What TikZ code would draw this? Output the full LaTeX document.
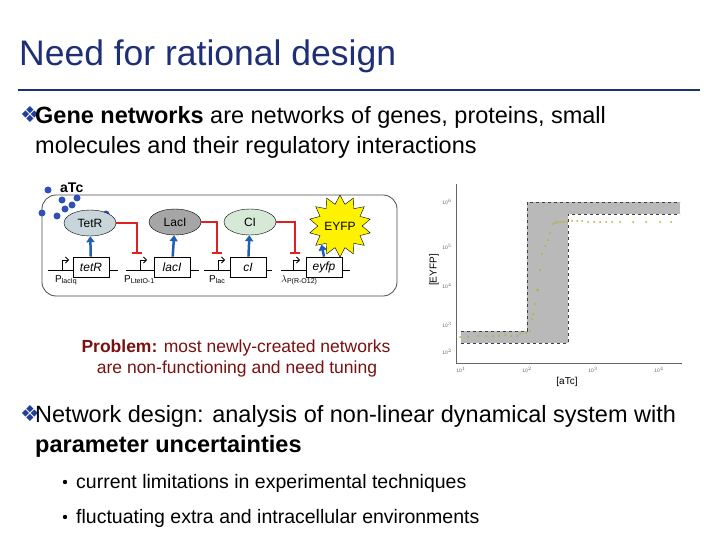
\documentclass[tikz,border=0pt]{standalone}
\usepackage{fontspec}
\setmainfont{Liberation Sans}
\newfontfamily\symfont{DejaVu Sans}
\usetikzlibrary{positioning,shapes.geometric,arrows.meta}
\definecolor{titleblue}{HTML}{1F2F75}
\definecolor{bulblue}{HTML}{1F3F9A}
\definecolor{probred}{HTML}{7A1010}
\definecolor{repred}{HTML}{E02020}
\definecolor{actblue}{HTML}{2060B0}
\definecolor{dotblue}{HTML}{3050B8}
\definecolor{datayel}{HTML}{B8B030}

\begin{document}
\begin{tikzpicture}[x=1pt,y=-1pt,
                    every node/.style={inner sep=0pt},
                    body/.style={anchor=base west,font=\fontsize{23.5}{27}\selectfont},
                    sub/.style={anchor=base west,font=\fontsize{19.5}{23}\selectfont},
                    bul/.style={anchor=base west,text=bulblue,font=\symfont\fontsize{22}{24}\selectfont},
                    gene/.style={draw,thick,fill=white,minimum width=36pt,minimum height=20pt,
                      font=\itshape\fontsize{12}{14}\selectfont},
                    prot/.style={draw,ellipse,minimum width=52pt,minimum height=26pt,
                      font=\fontsize{12}{14}\selectfont},
                    prom/.style={anchor=north west,font=\fontsize{10}{12}\selectfont},
                    act/.style={actblue,line width=2.5pt,-{Triangle[length=6pt,width=8pt]}},
                    rep/.style={repred,line width=2pt,-{Bar[width=10pt]}}]
\useasboundingbox (0,0) rectangle (720,540);
\fill[white] (0,0) rectangle (720,540);
% title
\node[anchor=base west,text=titleblue,font=\fontsize{35.5}{40}\selectfont] (title) at (19,66) {Need for rational design};
\draw[titleblue,line width=2.5pt] (18,90) -- (700,90);
% first bullet
\node[bul] (b1) at (20,123) {❖};
\node[body] (t1a) at (35,124) {\textbf{Gene networks} are networks of genes, proteins, small};
\node[body] (t1b) at (35,154) {molecules and their regulatory interactions};
% gene network
\draw[thick,rounded corners=14pt,black!70] (42,195) rectangle (397,296);
\node[anchor=base west,font=\bfseries\fontsize{14}{16}\selectfont] (atc) at (60,193) {aTc};
\foreach \p in {(48,190),(42,213),(62,200),(77,198),(72,205),(65,209),(57,216),(106,214)}
  \fill[dotblue] \p circle (3.5pt);
\draw[thick] (48,270) -- (118,270);
\draw[thick] (126,270) -- (199,270);
\draw[thick] (204,270) -- (272,270);
\draw[thick] (281,270) -- (350,270);
\node[gene] (tetR) at (91,267) {tetR};
\node[gene] (lacI) at (172,267) {lacI};
\node[gene] (cI) at (248,267) {cI};
\node[gene] (eyfp) at (324,267) {eyfp};
\foreach \x in {62,140,218,293}
  \draw[thick,-{Straight Barb[length=3pt]}] (\x,270) -- (\x,260) -- (\x+7,260);
\node[prom] (p1) at (55,275) {P\textsubscript{lacIq}};
\node[prom] (p2) at (124,275) {P\textsubscript{LtetO-1}};
\node[prom] (p3) at (209,275) {P\textsubscript{lac}};
\node[prom] (p4) at (281,275) {$\lambda$\textsubscript{P(R-O12)}};
\node[prot,fill=cyan!25!gray!40] (TetR) at (90,223) {TetR};
\node[prot,fill=gray!70] (LacI) at (175,222) {LacI};
\node[prot,fill=green!30!gray!25] (CI) at (250,222) {CI};
\node[star,star points=14,star point ratio=1.4,draw,fill=yellow,minimum size=38pt,
      font=\fontsize{12}{14}\selectfont] (EYFP) at (340,226) {EYFP};
\draw[act] (tetR) -- (TetR);
\draw[act] (lacI) -- (LacI);
\draw[act] (cI) -- (CI);
\draw[act] (eyfp.north) -- (EYFP.south west);
\draw[rep] (TetR.east) -- (137,223) -- (137,254);
\draw[rep] (LacI.east) -- (217,222) -- (217,254);
\draw[rep] (CI.east) -- (295,222) -- (295,254);
% problem text
\node[text=probred,font=\fontsize{17.5}{20}\selectfont] (prob1) at (236,348) {\textbf{Problem:} most newly-created networks};
\node[text=probred,font=\fontsize{17.5}{20}\selectfont] (prob2) at (237,369) {are non-functioning and need tuning};
% plot
\fill[gray!55] (461,331) rectangle (527,343);
\fill[gray!55] (527,202) rectangle (568,343);
\fill[gray!55] (568,202) rectangle (680,214);
\draw[dashed,thick,black!75] (461,343) -- (568,343) -- (568,214) -- (680,214);
\draw[dashed,thick,black!75] (461,331) -- (527,331) -- (527,202) -- (680,202);
\draw[black!60] (456,184) -- (456,363) -- (682,363);
\foreach \x/\e in {461/1,527/2,593/3,659/4}
  \node[font=\fontsize{5}{6}\selectfont,text=black!60] (xt\e) at (\x,370) {10$^{\e}$};
\foreach \y/\e in {202/6,247/5,286/4,325/3,352/2}
  \node[font=\fontsize{5}{6}\selectfont,text=black!60] (yt\e) at (447,\y) {10$^{\e}$};
\foreach \x/\y in {460/337,468/337,478/336,486/336,493/336,499/336,505/335,511/336,517/336,
  520/334,526/333,530/331,532/319,533/314,535/304,537/290,538/290,540/270,542/254,545/246,
  548/240,550/233,553/224,555/223,557/222,560/222,563/222,567/222,572/221,577/221,582/221,
  588/222,594/222,600/222,606/222,612/222,620/222,633/222,646/222,660/222,671/222}
  \fill[datayel] (\x,\y) circle (1pt);
\node[rotate=90,font=\fontsize{10}{12}\selectfont] (ylab) at (434,270) {[EYFP]};
\node[font=\fontsize{10}{12}\selectfont] (xlab) at (567,382) {[aTc]};
% second bullet
\node[bul] (b2) at (20,421) {❖};
\node[body] (t2a) at (35,422) {Network design: analysis of non-linear dynamical system with};
\node[body] (t2b) at (35,452) {\textbf{parameter uncertainties}};
\fill (65,482) circle (2.2pt);
\node[sub] (s1) at (76,488) {current limitations in experimental techniques};
\fill (65,517) circle (2.2pt);
\node[sub] (s2) at (76,523) {fluctuating extra and intracellular environments};
\end{tikzpicture}
\end{document}
